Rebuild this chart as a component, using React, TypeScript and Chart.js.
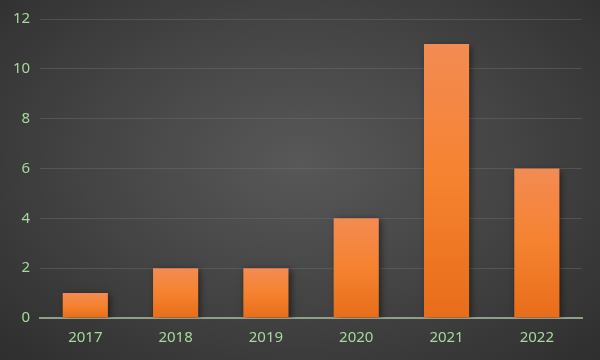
import React, { useEffect, useRef } from "react";
import { Chart, registerables } from "chart.js";

Chart.register(...registerables);

const categories = ["2017", "2018", "2019", "2020", "2021", "2022"];
const values = [1, 2, 2, 4, 11, 6];
const yTicks = [0, 2, 4, 6, 8, 10, 12];

const shadowPlugin = {
  id: "barShadow",
  beforeDatasetDraw(chart: any) {
    const ctx = chart.ctx;
    ctx.save();
    ctx.shadowColor = "rgba(0,0,0,0.55)";
    ctx.shadowBlur = 7;
    ctx.shadowOffsetX = 2;
    ctx.shadowOffsetY = 2;
  },
  afterDatasetDraw(chart: any) {
    chart.ctx.restore();
  },
};

export default function App() {
  const ref = useRef<HTMLCanvasElement | null>(null);
  useEffect(() => {
    document.body.style.margin = "0";
    const canvas = ref.current!;
    const chart = new Chart(canvas, {
      type: "bar",
      data: {
        labels: categories,
        datasets: [
          {
            data: values,
            backgroundColor: (c: any) => {
              const chartObj = c.chart;
              const y = chartObj.scales?.y;
              if (!y || c.raw == null) return "#f08030";
              const top = y.getPixelForValue(c.raw);
              const bottom = y.getPixelForValue(0);
              if (!Number.isFinite(top) || !Number.isFinite(bottom) || top === bottom) return "#f08030";
              const g = chartObj.ctx.createLinearGradient(0, top, 0, bottom);
              g.addColorStop(0, "#f38b53");
              g.addColorStop(0.5, "#f5822f");
              g.addColorStop(1, "#e86d1a");
              return g;
            },
            borderWidth: 0,
            barPercentage: 0.5,
            categoryPercentage: 1,
          },
        ],
      },
      options: {
        animation: false,
        responsive: false,
        maintainAspectRatio: false,
        layout: { padding: { left: 3, right: 18, top: 8, bottom: 2 } },
        plugins: { legend: { display: false }, tooltip: { enabled: false } },
        scales: {
          x: {
            grid: { display: false, drawTicks: false },
            border: { display: true, color: "#8fa088", width: 2 },
            ticks: {
              color: "#a6d99c",
              font: { family: "Noto Sans", size: 15 },
              padding: 11,
            },
          },
          y: {
            min: 0,
            max: 12,
            afterBuildTicks: (axis: any) => {
              axis.ticks = yTicks.map((v) => ({ value: v }));
            },
            grid: { color: "rgba(110,110,110,0.45)", lineWidth: 1, drawTicks: false },
            border: { display: false },
            ticks: {
              color: "#a6d99c",
              font: { family: "Noto Sans", size: 15 },
              padding: 10,
            },
          },
        },
      },
      plugins: [shadowPlugin],
    });
    return () => chart.destroy();
  }, []);
  return (
    <div
      style={{
        width: 600,
        height: 360,
        background:
          "radial-gradient(ellipse at 50% 45%, #585858 0%, #464646 45%, #2e2e2e 100%)",
      }}
    >
      <canvas ref={ref} width={600} height={360} style={{ display: "block" }} />
    </div>
  );
}
